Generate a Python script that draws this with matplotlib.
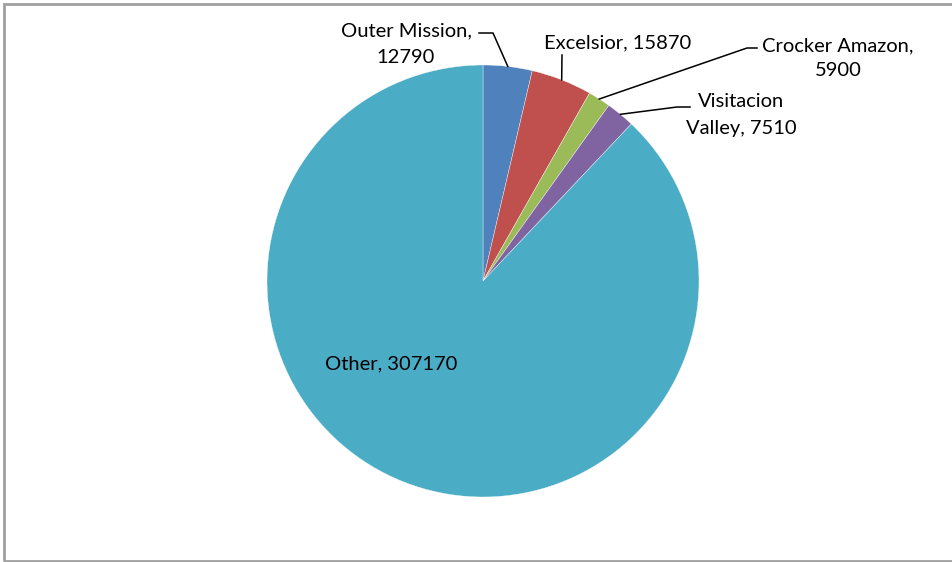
import numpy as np
import matplotlib.pyplot as plt
from matplotlib.patches import Rectangle

names = ["Outer Mission", "Excelsior", "Crocker Amazon", "Visitacion Valley", "Other"]
values = [12790, 15870, 5900, 7510, 307170]
colors = ["#4F81BD", "#C0504D", "#9BBB59", "#8064A2", "#4BACC6"]
label_text = ["Outer Mission,\n12790", "Excelsior, 15870", "Crocker Amazon,\n5900",
              "Visitacion\nValley, 7510", "Other, 307170"]

W, H = 952, 562
cx, cy, r = 483, 281, 216

plt.rcParams['font.family'] = ['Lato', 'DejaVu Sans']

fig = plt.figure(figsize=(W / 100, H / 100), dpi=100)
ax = fig.add_axes([0, 0, 1, 1])

def fy(y):
    # pixel from top -> axes y
    return H - y

ax.pie(values, colors=colors, startangle=90, counterclock=False,
       center=(cx, fy(cy)), radius=r,
       wedgeprops=dict(edgecolor='white', linewidth=0.25))
ax.set_aspect('equal')
ax.set_xlim(0, W)
ax.set_ylim(0, H)
ax.axis('off')

# frame
fig.patches.append(Rectangle((4 / W, 1 - 561 / H), 960 / W, 557 / H, transform=fig.transFigure,
                             fill=False, edgecolor='#a0a0a0', linewidth=2))

# leader line start points at slice mid angles
tot = sum(values)
cum = np.cumsum([0] + values[:-1])
mids = [(c + v / 2) / tot * 2 * np.pi for c, v in zip(cum, values)]
starts = [(cx + r * np.sin(a), cy - r * np.cos(a)) for a in mids]

# elbow / end points (pixels from top)
leaders = [
    [(493, 33), (479, 33)],
    [(562, 55)],
    [(747, 48), (757, 48)],
    [(677, 107), (690, 107)],
]
for i, pts in enumerate(leaders):
    xs = [starts[i][0]] + [p[0] for p in pts]
    ys = [fy(starts[i][1])] + [fy(p[1]) for p in pts]
    ax.plot(xs, ys, color='black', linewidth=1.1)

fs = 14.5
ls = 1.65
ax.text(406, fy(44), label_text[0], ha='center', va='center', fontsize=fs, linespacing=ls)
ax.text(618, fy(43), label_text[1], ha='center', va='center', fontsize=fs)
ax.text(838, fy(58), label_text[2], ha='center', va='center', fontsize=fs, linespacing=1.55)
ax.text(741, fy(115), label_text[3], ha='center', va='center', fontsize=fs, linespacing=ls)
ax.text(391, fy(364), label_text[4], ha='center', va='center', fontsize=fs)

fig.savefig('out.png', dpi=100, facecolor='white')
